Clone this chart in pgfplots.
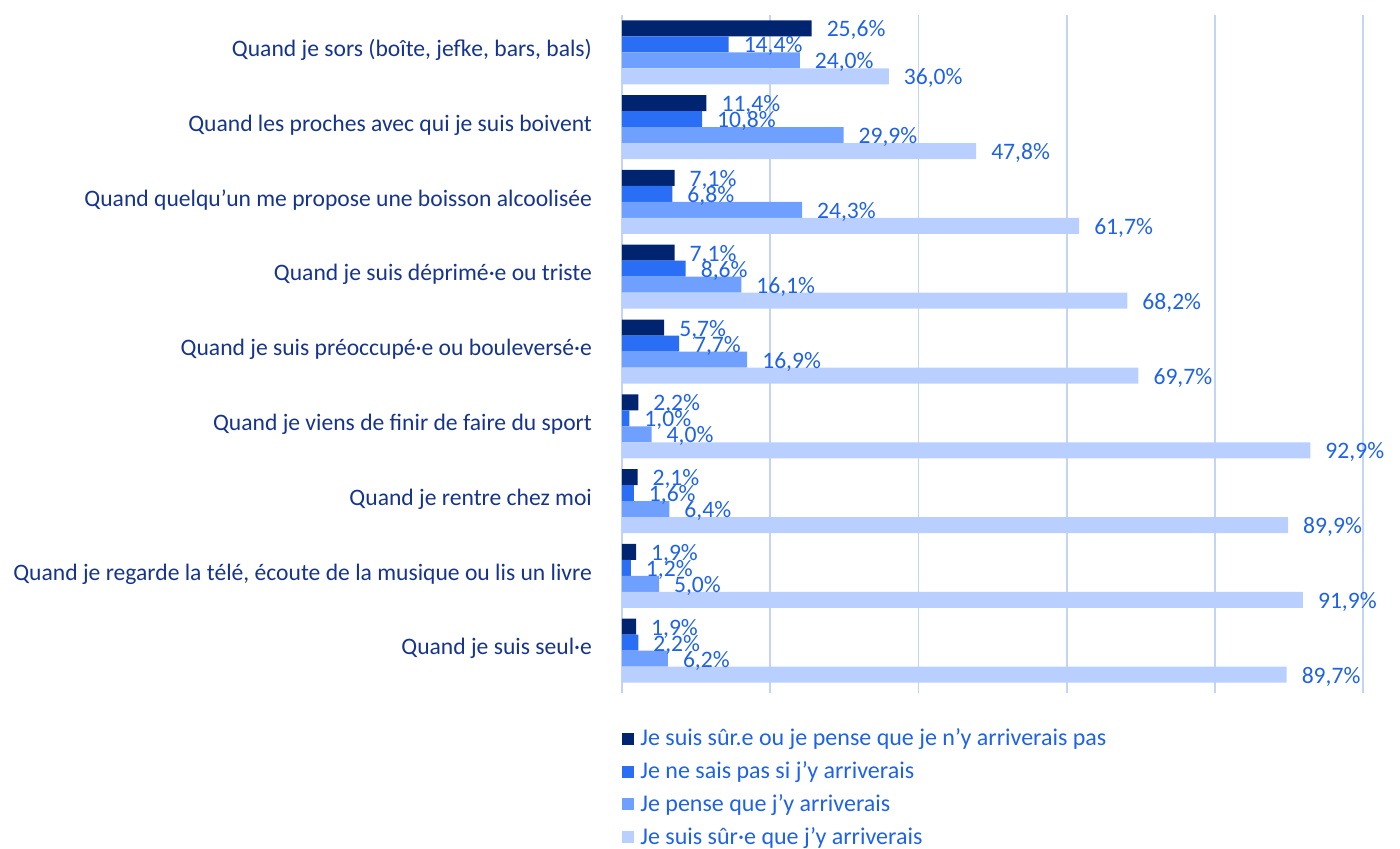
\documentclass[border=0pt]{standalone}
\usepackage{pgfplots}
\pgfplotsset{compat=1.18}
\usepackage{fontspec}
\setmainfont{Carlito}
\definecolor{c1}{RGB}{0,36,112}
\definecolor{c2}{RGB}{42,110,245}
\definecolor{c3}{RGB}{112,160,255}
\definecolor{c4}{RGB}{185,207,255}
\definecolor{catcol}{RGB}{22,52,140}
\definecolor{valcol}{RGB}{30,98,232}
\definecolor{gridcol}{RGB}{196,212,245}
\begin{document}
\begin{tikzpicture}
\begin{axis}[
  at={(0,0)}, anchor=south west,
  scale only axis, width=370.5pt, height=336.5pt,
  xmin=0, xmax=100,
  ymin=-0.5, ymax=8.5, y dir=reverse,
  xbar, bar width=8pt,
  xtick={0,20,40,60,80,100}, xticklabels={},
  xtick pos=bottom, tick align=outside, major tick length=2.5pt,
  xtick style={gridcol, line width=0.9pt},
  xmajorgrids, grid style={gridcol, line width=0.9pt},
  ytick={0,...,8},
  ytick style={draw=none},
  yticklabels={{Quand je sors (boîte, jefke, bars, bals)},
    {Quand les proches avec qui je suis boivent},
    {Quand quelqu’un me propose une boisson alcoolisée},
    {Quand je suis déprimé·e ou triste},
    {Quand je suis préoccupé·e ou bouleversé·e},
    {Quand je viens de finir de faire du sport},
    {Quand je rentre chez moi},
    {Quand je regarde la télé, écoute de la musique ou lis un livre},
    {Quand je suis seul·e}},
  yticklabel style={font=\fontsize{11.8}{14}\selectfont, text=catcol, anchor=east, xshift=-9pt, yshift=1pt},
  axis line style={draw=none},
  point meta=x,
  nodes near coords={\pgfmathprintnumber[fixed, fixed zerofill, precision=1, use comma, assume math mode=true]{\pgfplotspointmeta}\%},
  nodes near coords style={font=\fontsize{11.8}{13}\selectfont, text=valcol, anchor=west, xshift=4pt, yshift=-1pt},
  legend style={at={(rel axis cs:0,0)}, anchor=north west, yshift=-17pt, draw=none, fill=none,
    font=\fontsize{12}{14}\selectfont, text=valcol, inner sep=0pt, row sep=0pt,
    nodes={inner sep=0pt, minimum height=16.4pt}},
  legend cell align=left,
]
\addplot[draw=none, fill=c1, bar shift=12pt, legend image code/.code={\fill[c1] (0pt,-3pt) rectangle (6pt,3pt); \path (9pt,0pt);}] coordinates {
(25.6,0) (11.4,1) (7.1,2) (7.1,3) (5.7,4) (2.2,5) (2.1,6) (1.9,7) (1.9,8)};
\addplot[draw=none, fill=c2, bar shift=4pt, legend image code/.code={\fill[c2] (0pt,-3pt) rectangle (6pt,3pt); \path (9pt,0pt);}] coordinates {
(14.4,0) (10.8,1) (6.8,2) (8.6,3) (7.7,4) (1.0,5) (1.6,6) (1.2,7) (2.2,8)};
\addplot[draw=none, fill=c3, bar shift=-4pt, legend image code/.code={\fill[c3] (0pt,-3pt) rectangle (6pt,3pt); \path (9pt,0pt);}] coordinates {
(24.0,0) (29.9,1) (24.3,2) (16.1,3) (16.9,4) (4.0,5) (6.4,6) (5.0,7) (6.2,8)};
\addplot[draw=none, fill=c4, bar shift=-12pt, legend image code/.code={\fill[c4] (0pt,-3pt) rectangle (6pt,3pt); \path (9pt,0pt);}] coordinates {
(36.0,0) (47.8,1) (61.7,2) (68.2,3) (69.7,4) (92.9,5) (89.9,6) (91.9,7) (89.7,8)};
\legend{Je suis sûr.e ou je pense que je n’y arriverais pas,
  Je ne sais pas si j’y arriverais,
  Je pense que j’y arriverais,
  Je suis sûr·e que j’y arriverais}
\end{axis}
\pgfresetboundingbox
\path[use as bounding box] (-311pt,-80.5pt) rectangle (389pt,344pt);
\end{tikzpicture}
\end{document}
